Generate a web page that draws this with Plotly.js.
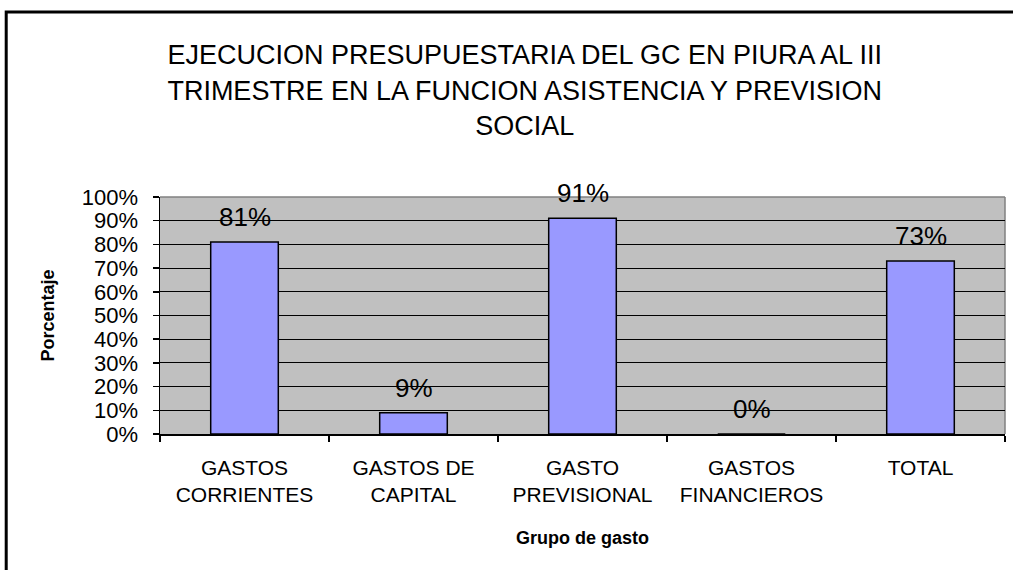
<!DOCTYPE html>
<html>
<head>
<meta charset="utf-8">
<script src="https://cdn.plot.ly/plotly-3.0.1.min.js"></script>
<style>html,body{margin:0;padding:0;background:#fff;}#chart{width:1013px;height:570px;}</style>
</head>
<body>
<div id="chart"></div>
<script>
const categories = ["GASTOS<br>CORRIENTES", "GASTOS DE<br>CAPITAL", "GASTO<br>PREVISIONAL", "GASTOS<br>FINANCIEROS", "TOTAL"];
const values = [81, 9, 91, 0, 73];
const valueLabels = ["81%", "9%", "91%", "0%", "73%"];
const yTickVals = [0, 10, 20, 30, 40, 50, 60, 70, 80, 90, 100];
const yTickText = ["0%", "10%", "20%", "30%", "40%", "50%", "60%", "70%", "80%", "90%", "100%"];

const font = "Arial, 'Liberation Sans', sans-serif";

const trace = {
  type: "bar",
  x: categories,
  y: values,
  marker: {color: "#9999ff", line: {color: "#000000", width: 1.5}},
  hoverinfo: "none"
};

const annotations = categories.map((c, i) => ({
  x: c, y: values[i], xref: "x", yref: "y",
  text: valueLabels[i], showarrow: false,
  yanchor: "bottom", yshift: 8,
  font: {family: font, size: 26, color: "#000"}
}));

const layout = {
  width: 1013, height: 570,
  margin: {l: 160, r: 8, t: 197, b: 136},
  paper_bgcolor: "#ffffff",
  plot_bgcolor: "#c0c0c0",
  showlegend: false,
  bargap: 0.6,
  title: {
    text: "EJECUCION PRESUPUESTARIA DEL GC EN PIURA AL III<br>TRIMESTRE EN LA FUNCION ASISTENCIA Y PREVISION<br>SOCIAL",
    font: {family: font, size: 27, color: "#000"},
    xref: "container", x: 0.518, xanchor: "center",
    yref: "container", y: 0.887, yanchor: "top"
  },
  xaxis: {
    type: "category",
    tickson: "boundaries",
    ticks: "outside", ticklen: 6, tickcolor: "#000", tickwidth: 1.5,
    showline: true, linecolor: "#000", linewidth: 1.5,
    showgrid: false,
    ticklabelstandoff: 14,
    tickfont: {family: font, size: 21, color: "#000"},
    title: {text: "<b>Grupo de gasto</b>", font: {family: font, size: 18, color: "#000"}, standoff: 26},
    automargin: false
  },
  yaxis: {
    range: [0, 100],
    tickvals: yTickVals, ticktext: yTickText,
    ticks: "outside", ticklen: 6, tickcolor: "#000", tickwidth: 1.5,
    showline: true, linecolor: "#000", linewidth: 1.5,
    showgrid: true, gridcolor: "#000", gridwidth: 1,
    zeroline: false,
    ticklabelstandoff: 10,
    tickfont: {family: font, size: 22, color: "#000"},
    title: {text: "<b>Porcentaje</b>", font: {family: font, size: 18, color: "#000"}, standoff: 22},
    automargin: false
  },
  annotations: annotations,
  shapes: [
    {type: "line", xref: "paper", yref: "paper", x0: 0, x1: 1, y0: 1, y1: 1, layer: "between", line: {color: "#808080", width: 1.5}},
    {type: "line", xref: "paper", yref: "paper", x0: 1, x1: 1, y0: 0, y1: 1, layer: "between", line: {color: "#808080", width: 1.5}},
    {type: "rect", xref: "paper", yref: "paper", x0: -0.182, x1: 1.05, y0: -0.7, y1: 1.7806, layer: "above", line: {color: "#000", width: 3}}
  ]
};

Plotly.newPlot("chart", [trace], layout, {displayModeBar: false, staticPlot: true});
</script>
</body>
</html>
